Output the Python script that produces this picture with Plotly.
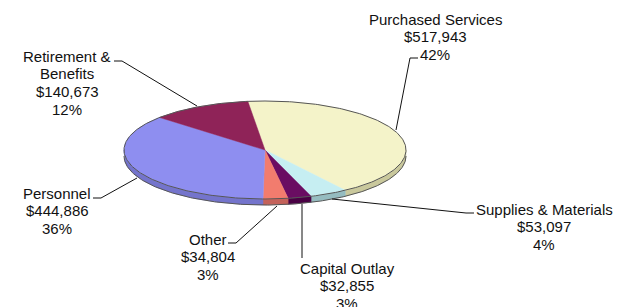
import numpy as np
import plotly.graph_objects as go

# ---- data ----
categories = ["Purchased Services", "Supplies & Materials", "Capital Outlay",
              "Other", "Personnel", "Retirement & Benefits"]
values = [517943, 53097, 32855, 34804, 444886, 140673]
pct_labels = ["42%", "4%", "3%", "3%", "36%", "12%"]
name_lines = [["Purchased Services"], ["Supplies & Materials"], ["Capital Outlay"],
              ["Other"], ["Personnel"], ["Retirement &", "Benefits"]]

# ---- styles ----
top_colors = ["#F4F3C9", "#C6EEF2", "#6A0D62", "#F27C6E", "#8E8EF0", "#8F2358"]
side_colors = ["#C9C89C", "#95BCC0", "#4A0044", "#C4625A", "#7474CC", "#6A1842"]

CX, CY, A, B, DEPTH = 265, 150, 141, 49, 6
START_DEG = -7

# label layout: (center x, first line y) and leader polyline
label_pos = {
    "Purchased Services": (435, 19),
    "Supplies & Materials": (544, 209),
    "Capital Outlay": (347, 268),
    "Other": (208, 239),
    "Personnel": (57, 193),
    "Retirement & Benefits": (67, 56),
}
leaders = {
    "Purchased Services": [(418, 58), (410, 58), (396, 130)],
    "Supplies & Materials": [(474, 213), (466, 213), (332, 199)],
    "Capital Outlay": [(302, 258), (302, 204)],
    "Other": [(228, 243), (236, 243), (277, 206)],
    "Personnel": [(93, 198), (101, 198), (137, 178)],
    "Retirement & Benefits": [(114, 61), (122, 61), (197, 106)],
}
LINE_STEP = 17.7


def edge(th_deg, dy=0.0):
    t = np.radians(th_deg)
    return CX + A * np.sin(t), CY - B * np.cos(t) + dy


fig = go.Figure()
total = float(sum(values))
bounds = [START_DEG]
for v in values:
    bounds.append(bounds[-1] + 360.0 * v / total)

# side walls (front half only)
for i, v in enumerate(values):
    t0, t1 = bounds[i], bounds[i + 1]
    s0, s1 = max(t0, 90), min(t1, 270)
    if s1 > s0:
        th = np.linspace(s0, s1, 80)
        xt, yt = edge(th)
        xb, yb = edge(th[::-1], DEPTH)
        fig.add_trace(go.Scatter(x=np.concatenate([xt, xb, xt[:1]]),
                                 y=np.concatenate([yt, yb, yt[:1]]),
                                 fill="toself", fillcolor=side_colors[i],
                                 mode="lines", line=dict(width=0.5, color=side_colors[i]),
                                 hoverinfo="skip"))

# top surfaces
for i, v in enumerate(values):
    t0, t1 = bounds[i], bounds[i + 1]
    th = np.linspace(t0, t1, max(8, int((t1 - t0) * 2)))
    xe, ye = edge(th)
    fig.add_trace(go.Scatter(x=np.concatenate([[CX], xe, [CX]]),
                             y=np.concatenate([[CY], ye, [CY]]),
                             fill="toself", fillcolor=top_colors[i],
                             mode="lines", line=dict(width=0.5, color=top_colors[i]),
                             name=categories[i],
                             text=f"{categories[i]}: ${v:,}", hoverinfo="text"))

# outlines
th = np.linspace(0, 360, 361)
xo, yo = edge(th)
fig.add_trace(go.Scatter(x=xo, y=yo, mode="lines", line=dict(color="#555555", width=1),
                         hoverinfo="skip"))
th = np.linspace(90, 270, 181)
xo, yo = edge(th, DEPTH)
fig.add_trace(go.Scatter(x=xo, y=yo, mode="lines", line=dict(color="#555555", width=1),
                         hoverinfo="skip"))

# leader lines
for cat in categories:
    pts = leaders[cat]
    fig.add_trace(go.Scatter(x=[p[0] for p in pts], y=[p[1] for p in pts], mode="lines",
                             line=dict(color="#111111", width=1), hoverinfo="skip"))

annotations = []
for i, cat in enumerate(categories):
    lines = name_lines[i] + [f"${values[i]:,}", pct_labels[i]]
    x0, y0 = label_pos[cat]
    for k, ln in enumerate(lines):
        annotations.append(dict(x=x0, y=y0 + k * LINE_STEP, text=ln, showarrow=False,
                                xref="x", yref="y", xanchor="center", yanchor="middle",
                                font=dict(family="Liberation Sans, Arial", size=15,
                                          color="#111111")))

fig.update_layout(width=631, height=307, margin=dict(l=0, r=0, t=0, b=0),
                  paper_bgcolor="white", plot_bgcolor="white", showlegend=False,
                  xaxis=dict(range=[0, 631], visible=False, fixedrange=True),
                  yaxis=dict(range=[307, 0], visible=False, fixedrange=True),
                  annotations=annotations)

fig.write_html("out.html", config={"displayModeBar": False},
               post_script="document.body.style.margin='0';"
                           "document.body.style.overflow='hidden';")
